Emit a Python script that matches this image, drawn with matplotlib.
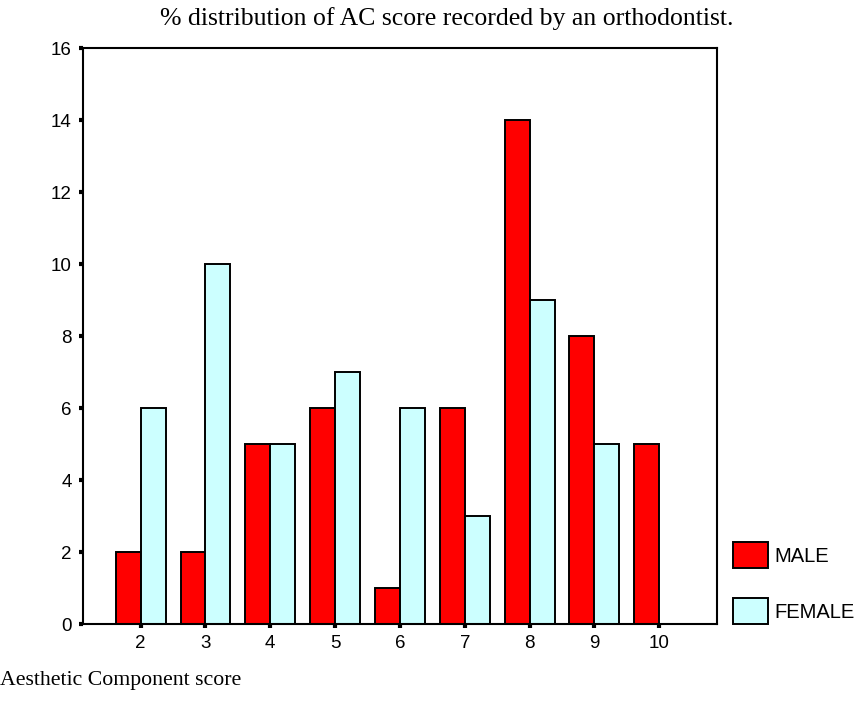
import matplotlib
matplotlib.use("Agg")
import matplotlib.pyplot as plt
import numpy as np
from matplotlib.patches import Patch

scores = [2, 3, 4, 5, 6, 7, 8, 9, 10]
male = [2, 2, 5, 6, 1, 6, 14, 8, 5]
female = [6, 10, 5, 7, 6, 3, 9, 5, 0]
y_ticks = [0, 2, 4, 6, 8, 10, 12, 14, 16]

RED = "#ff0000"
CYAN = "#ccffff"

fig = plt.figure(figsize=(8.59, 7.02), dpi=100)
ax = fig.add_axes([0.0966, 0.1111, 0.738, 0.8205])

x = np.array(scores, dtype=float)
w = 0.385
ax.bar(x - w / 2, male, width=w, color=RED, edgecolor="black", linewidth=1.4, label="MALE")
ax.bar(x + w / 2, female, width=w, color=CYAN, edgecolor="black", linewidth=1.4, label="FEMALE")

ax.set_xlim(1.11, 10.89)
ax.set_ylim(0, 16)
ax.set_xticks(scores)
ax.set_yticks(y_ticks)
ax.tick_params(direction="out", length=3, width=3, labelsize=13.5, pad=5)
for lab in ax.get_xticklabels() + ax.get_yticklabels():
    lab.set_family("Liberation Sans")
for s in ax.spines.values():
    s.set_linewidth(1.5)

fig.text(0.5198, 0.973, "% distribution of AC score recorded by an orthodontist.",
         ha="center", va="center", family="Liberation Serif", fontsize=18.5)
fig.text(0.0, 0.031, "Aesthetic Component score", ha="left", va="center",
         family="Liberation Serif", fontsize=15.7)

handles = [Patch(facecolor=RED, edgecolor="black", linewidth=1.4, label="MALE"),
           Patch(facecolor=CYAN, edgecolor="black", linewidth=1.4, label="FEMALE")]
fig.legend(handles=handles, loc="lower left", bbox_to_anchor=(0.8533, 0.111),
           frameon=False, prop={"family": "Liberation Sans", "size": 14.5},
           borderpad=0, borderaxespad=0,
           handlelength=1.75, handleheight=1.6, labelspacing=1.5, handletextpad=0.33)

fig.savefig("out.png", dpi=100)
